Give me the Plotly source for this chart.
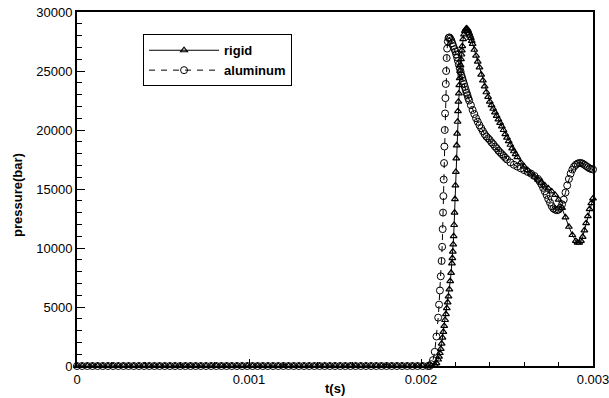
import plotly.graph_objects as go

# ---- data (time in ms, pressure in bar) ----
t_flat_ms = [0.00, 0.03, 0.06, 0.09, 0.12, 0.15, 0.18, 0.21, 0.24, 0.27, 0.30, 0.33, 0.36, 0.39,
             0.42, 0.45, 0.48, 0.51, 0.54, 0.57, 0.60, 0.63, 0.66, 0.69, 0.72, 0.75, 0.78, 0.81,
             0.84, 0.87, 0.90, 0.93, 0.96, 0.99, 1.02, 1.05, 1.08, 1.11, 1.14, 1.17, 1.20, 1.23,
             1.26, 1.29, 1.32, 1.35, 1.38, 1.41, 1.44, 1.47, 1.50, 1.53, 1.56, 1.59, 1.62, 1.65,
             1.68, 1.71, 1.74, 1.77, 1.80, 1.83, 1.86, 1.89, 1.92, 1.95, 1.98, 2.01, 2.04]
p_flat = [0, 0, 0, 0, 0, 0, 0, 0, 0, 0, 0, 0, 0, 0, 0, 0, 0, 0, 0, 0, 0, 0, 0, 0, 0, 0, 0, 0,
          0, 0, 0, 0, 0, 0, 0, 0, 0, 0, 0, 0, 0, 0, 0, 0, 0, 0, 0, 0, 0, 0, 0, 0, 0, 0, 0, 0,
          0, 0, 0, 0, 0, 0, 0, 0, 0, 0, 0, 0, 0]

rigid_t_ms = [2.06, 2.08, 2.09, 2.10, 2.105, 2.11, 2.115, 2.12, 2.125, 2.13, 2.135, 2.14, 2.145,
              2.15, 2.155, 2.16, 2.165, 2.17, 2.175, 2.18, 2.1825, 2.185, 2.1875, 2.19, 2.1925,
              2.195, 2.1975, 2.20, 2.2025, 2.205, 2.2075, 2.21, 2.2125, 2.215, 2.2175, 2.22, 2.2225,
              2.225, 2.2275, 2.23, 2.2325, 2.235, 2.2375, 2.24, 2.245, 2.25, 2.255, 2.26, 2.265,
              2.27, 2.275, 2.28, 2.285, 2.29, 2.295, 2.30, 2.31, 2.32, 2.33, 2.34, 2.35, 2.36,
              2.37, 2.38, 2.39, 2.40, 2.41, 2.42, 2.43, 2.44, 2.45, 2.46, 2.47, 2.48, 2.49, 2.50,
              2.51, 2.52, 2.53, 2.54, 2.55, 2.56, 2.58, 2.60, 2.62, 2.64, 2.66, 2.68, 2.70, 2.72,
              2.74, 2.76, 2.78, 2.80, 2.82, 2.84, 2.86, 2.88, 2.90, 2.91, 2.92, 2.93, 2.94, 2.95,
              2.96, 2.97, 2.98, 2.99, 3.00]
rigid_p = [0, 100, 250, 550, 800, 1100, 1450, 1900, 2400, 2900, 3400, 3900, 4400,
           4900, 5400, 5900, 6500, 7200, 7900, 8700, 9150, 9700, 10300, 11000, 11950,
           13000, 14150, 15300, 16450, 17600, 18700, 19700, 20700, 21600, 22400, 23100, 23800,
           24400, 25000, 25500, 26000, 26400, 26750, 27100, 27700, 28100, 28400, 28550, 28600,
           28550, 28400, 28200, 28000, 27800, 27550, 27300, 26800, 26300, 25800, 25300, 24700, 24200,
           23700, 23200, 22800, 22400, 22100, 21800, 21500, 21200, 20900, 20600, 20300, 20000, 19650, 19350,
           19050, 18750, 18450, 18200, 17950, 17700, 17250, 16900, 16600, 16300, 16050, 15800, 15550, 15300,
           15050, 14800, 14500, 14100, 13400, 12600, 11800, 11100, 10600, 10450, 10450, 10600, 10950, 11500,
           12100, 12700, 13300, 13800, 14200]

al_t_ms = [2.05, 2.06, 2.07, 2.08, 2.09, 2.10, 2.105, 2.11, 2.115, 2.12, 2.123, 2.126, 2.128, 2.13,
           2.132, 2.134, 2.136, 2.138, 2.14, 2.142, 2.144, 2.146, 2.149, 2.152, 2.156, 2.16, 2.165,
           2.17, 2.176, 2.182, 2.188, 2.195, 2.20, 2.205, 2.21, 2.215, 2.22, 2.225, 2.23, 2.235,
           2.24, 2.245, 2.25, 2.255, 2.26, 2.265, 2.27, 2.275, 2.28, 2.29, 2.30, 2.31, 2.32, 2.33,
           2.34, 2.35, 2.36, 2.37, 2.38, 2.39, 2.40, 2.41, 2.42, 2.43, 2.44, 2.45, 2.46, 2.47,
           2.48, 2.49, 2.50, 2.52, 2.54, 2.56, 2.58, 2.60, 2.62, 2.64, 2.66, 2.68, 2.69, 2.70,
           2.71, 2.72, 2.73, 2.74, 2.75, 2.76, 2.77, 2.78, 2.79, 2.80, 2.81, 2.82, 2.83, 2.84,
           2.85, 2.86, 2.87, 2.88, 2.89, 2.90, 2.91, 2.92, 2.93, 2.94, 2.95, 2.96, 2.97, 2.98,
           2.99, 3.00]
al_p = [0, 150, 500, 1200, 2500, 4100, 5200, 6400, 7600, 8900, 10100, 11600, 13000, 14400,
        15800, 17200, 18600, 20000, 21400, 22700, 23900, 25000, 26100, 26900, 27500, 27800, 27850,
        27750, 27600, 27350, 27100, 26850, 26650, 26400, 26150, 25850, 25550, 25250, 24950, 24650,
        24400, 24150, 23900, 23650, 23400, 23150, 22950, 22700, 22500, 22100, 21700, 21350, 21000, 20700,
        20400, 20150, 19900, 19650, 19450, 19300, 19150, 18950, 18800, 18600, 18450, 18250, 18100, 17950,
        17800, 17650, 17500, 17250, 17050, 16900, 16750, 16600, 16450, 16300, 16100, 15850, 15650, 15400,
        15100, 14800, 14500, 14150, 13850, 13550, 13350, 13250, 13200, 13250, 13400, 13700, 14100, 14700,
        15300, 15850, 16300, 16650, 16900, 17050, 17150, 17200, 17200, 17150, 17050, 16950, 16850, 16750,
        16700, 16650]

x_tick_vals = [0, 0.001, 0.002, 0.003]
x_tick_text = ["0", "0.001", "0.002", "0.003"]
y_tick_vals = [0, 5000, 10000, 15000, 20000, 25000, 30000]
y_tick_text = ["0", "5000", "10000", "15000", "20000", "25000", "30000"]

FONT = "Liberation Sans, Arial, sans-serif"

rigid_x = [v / 1000 for v in t_flat_ms + rigid_t_ms]
rigid_y = p_flat + rigid_p
al_x = [v / 1000 for v in t_flat_ms + al_t_ms]
al_y = p_flat + al_p

fig = go.Figure()
fig.add_trace(go.Scatter(
    x=rigid_x, y=rigid_y, name="<b>rigid</b>", mode="lines+markers",
    line=dict(color="black", width=1),
    marker=dict(symbol="triangle-up-open", size=6, color="black", line=dict(width=1.2, color="black")),
    cliponaxis=False,
))
fig.add_trace(go.Scatter(
    x=al_x, y=al_y, name="<b>aluminum</b>", mode="lines+markers",
    line=dict(color="black", width=1, dash="6px,6px"),
    marker=dict(symbol="circle-open", size=7, color="black", line=dict(width=1, color="black")),
    cliponaxis=False,
))

fig.update_layout(
    width=609, height=398,
    margin=dict(l=77, r=16, t=12, b=32, autoexpand=False),
    paper_bgcolor="white", plot_bgcolor="white",
    font=dict(family=FONT, size=13, color="black"),
    showlegend=True,
    legend=dict(
        x=0.128, y=0.937, xanchor="left", yanchor="top",
        bgcolor="white", bordercolor="black", borderwidth=1,
        font=dict(family=FONT, size=13, color="black"),
        itemwidth=70, tracegroupgap=0,
    ),
    xaxis=dict(
        range=[0, 0.0030000001], showgrid=False, zeroline=False, automargin=False,
        showline=True, linecolor="black", linewidth=2, mirror=True,
        ticks="inside", ticklen=7, tickwidth=1, tickcolor="black",
        tickvals=x_tick_vals, ticktext=x_tick_text, ticklabeloverflow="allow",
        minor=dict(dtick=0.0002, ticks="inside", ticklen=4, tickcolor="black", tickwidth=1),
        tickfont=dict(family=FONT, size=13),
    ),
    yaxis=dict(
        range=[0, 30000], showgrid=False, zeroline=False, automargin=False,
        showline=True, linecolor="black", linewidth=2, mirror=True,
        ticks="inside", ticklen=8, tickwidth=1, tickcolor="black",
        tickvals=y_tick_vals, ticktext=y_tick_text,
        minor=dict(dtick=1000, ticks="inside", ticklen=5, tickcolor="black", tickwidth=1),
        tickfont=dict(family=FONT, size=13),
    ),
    annotations=[
        dict(text="<b>t(s)</b>", xref="paper", yref="paper", x=0.5, y=0, yshift=-22,
             xanchor="center", yanchor="middle", showarrow=False,
             font=dict(family=FONT, size=13, color="black")),
        dict(text="<b>pressure(bar)</b>", xref="paper", yref="paper", x=0, y=0.5, xshift=-60,
             yshift=-6, xanchor="center", yanchor="middle", textangle=-90, showarrow=False,
             font=dict(family=FONT, size=13, color="black")),
    ],
)

fig.write_html("out.html", config={"displayModeBar": False},
               post_script="document.body.style.margin='0';document.body.style.overflow='hidden';")
